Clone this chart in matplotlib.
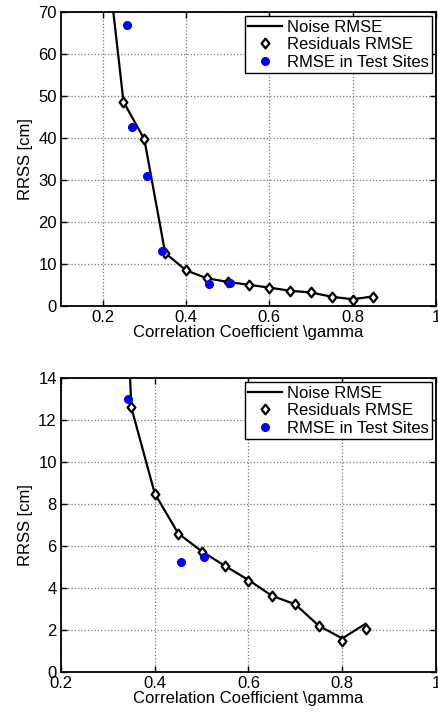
import numpy as np
import matplotlib
matplotlib.use("Agg")
import matplotlib.pyplot as plt
from matplotlib.path import Path

plt.rcParams['font.family'] = ['Liberation Sans', 'DejaVu Sans']

# noise RMSE curve
noise_x = [0.20, 0.25, 0.30, 0.35, 0.40, 0.45, 0.50, 0.55, 0.60, 0.65, 0.70, 0.75, 0.80, 0.85]
noise_y = [92.5, 48.6, 39.7, 12.6, 8.5, 6.6, 5.75, 5.05, 4.38, 3.63, 3.22, 2.2, 1.6, 2.3]

# residuals at each gamma step
resid_x = [0.25, 0.30, 0.35, 0.40, 0.45, 0.50, 0.55, 0.60, 0.65, 0.70, 0.75, 0.80, 0.85]
resid_y = [48.6, 39.7, 12.6, 8.48, 6.57, 5.73, 5.05, 4.35, 3.63, 3.22, 2.19, 1.5, 2.05]

# test sites
site_x = [0.258, 0.270, 0.306, 0.342, 0.456, 0.506]
site_y = [66.9, 42.7, 30.9, 13.0, 5.22, 5.46]

fs = 12

# matlab-ish diamond, a bit taller than wide
diamond = Path([(0, 1), (0.8, 0), (0, -1), (-0.8, 0), (0, 1)],
               [Path.MOVETO, Path.LINETO, Path.LINETO, Path.LINETO, Path.CLOSEPOLY])

fig = plt.figure(figsize=(4.39, 7.15), dpi=100)
W, H = 439, 715


def panel(rect, xlim, ylim, yticks, xticks):
    l, t, r, b = rect
    ax = fig.add_axes([l / W, 1 - b / H, (r - l) / W, (b - t) / H])
    ax.plot(noise_x, noise_y, '-', color='black', lw=1.6, label='Noise RMSE')
    ax.plot(resid_x, resid_y, marker=diamond, color='black', mfc='white', mec='black',
            mew=1.6, ms=7, label='Residuals RMSE', ls='none')
    ax.plot(site_x, site_y, 'o', color='blue', ms=5.5, mec='blue',
            label='RMSE in Test Sites', ls='none')
    ax.set_xlim(*xlim)
    ax.set_ylim(*ylim)
    ax.set_xticks(xticks)
    ax.set_yticks(yticks)
    ax.set_xticklabels([('%g' % v) for v in xticks], fontsize=fs)
    ax.set_yticklabels([('%g' % v) for v in yticks], fontsize=fs)
    ax.grid(True, ls=':', color='#777777', lw=0.9)
    ax.tick_params(direction='in', top=True, right=True, length=4, width=1, pad=3)
    for s in ax.spines.values():
        s.set_linewidth(1.3)
    ax.set_xlabel('Correlation Coefficient \\gamma', fontsize=fs, labelpad=0)
    ax.set_ylabel('RRSS [cm]', fontsize=fs, labelpad=4)
    leg = ax.legend(loc='upper right', fontsize=fs, fancybox=False, framealpha=1,
                    edgecolor='black', borderpad=0.2, labelspacing=0.15,
                    handlelength=2.0, handletextpad=0.3, borderaxespad=0.25)
    leg.get_frame().set_linewidth(1.0)
    return ax


panel((61, 12, 436, 306), (0.1, 1.0), (0, 70), [0, 10, 20, 30, 40, 50, 60, 70],
      [0.2, 0.4, 0.6, 0.8, 1])
panel((61, 378, 436, 672), (0.2, 1.0), (0, 14), [0, 2, 4, 6, 8, 10, 12, 14],
      [0.2, 0.4, 0.6, 0.8, 1])

fig.savefig('out.png', dpi=100)
